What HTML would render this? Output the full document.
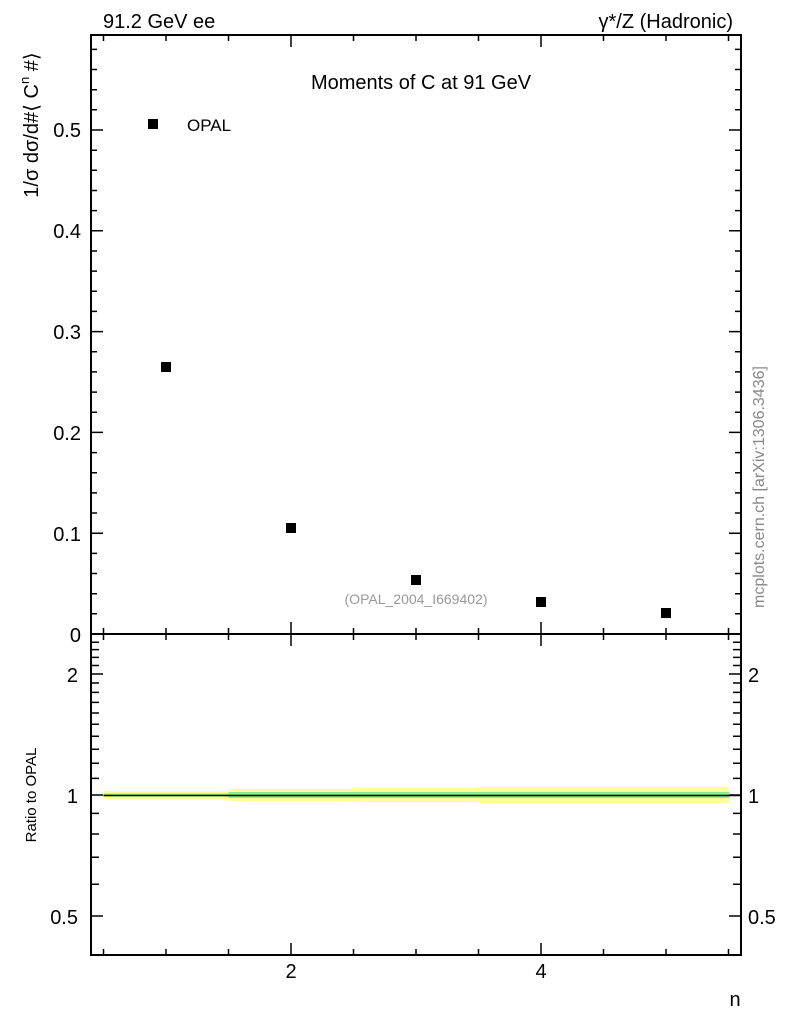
<!DOCTYPE html>
<html><head><style>body{margin:0;background:#fff}svg{display:block}text{font-family:"Liberation Sans",Arial,sans-serif}</style></head>
<body>
<svg width="786" height="1024" xmlns="http://www.w3.org/2000/svg">
<rect width="786" height="1024" fill="#fff"/>
<g>
<rect x="103.5" y="791" width="125" height="8" fill="#ffff99"/>
<rect x="228.5" y="789" width="125" height="12" fill="#ffff99"/>
<rect x="353.5" y="788" width="125" height="14" fill="#ffff99"/>
<rect x="478.5" y="787" width="125" height="16" fill="#ffff99"/>
<rect x="603.5" y="787" width="126" height="16" fill="#ffff99"/>
<rect x="103.5" y="793.5" width="125" height="3" fill="#99ee77"/>
<rect x="228.5" y="792" width="125" height="6" fill="#88ee88"/>
<rect x="353.5" y="792" width="125" height="6" fill="#88ee88"/>
<rect x="478.5" y="792" width="125" height="6" fill="#88ee88"/>
<rect x="603.5" y="792" width="126" height="6" fill="#88ee88"/>
<line x1="103.5" y1="795.5" x2="741" y2="795.5" stroke="#000" stroke-width="1.5"/>
</g>
<g stroke="#000" stroke-width="2" fill="none">
<rect x="91" y="35" width="650" height="920"/>
<line x1="91" y1="634" x2="741" y2="634"/>
</g>
<g stroke="#000" stroke-width="1.5">
<path d="M103.5 634v-6M166 634v-6M228.5 634v-6M291 634v-12M353.5 634v-6M416 634v-6M478.5 634v-6M541 634v-12M603.5 634v-6M666 634v-6M728.5 634v-6"/>
<path d="M103.5 634v6M166 634v6M228.5 634v6M291 634v12M353.5 634v6M416 634v6M478.5 634v6M541 634v12M603.5 634v6M666 634v6M728.5 634v6"/>
<path d="M103.5 35v6M166 35v6M228.5 35v6M291 35v12M353.5 35v6M416 35v6M478.5 35v6M541 35v12M603.5 35v6M666 35v6M728.5 35v6"/>
<path d="M103.5 955v-6M166 955v-6M228.5 955v-6M291 955v-12M353.5 955v-6M416 955v-6M478.5 955v-6M541 955v-12M603.5 955v-6M666 955v-6M728.5 955v-6"/>
<path d="M91 613.8h6M91 593.7h6M91 573.5h6M91 553.4h6M91 533.2h12M91 513h6M91 492.9h6M91 472.7h6M91 452.6h6M91 432.4h12M91 412.2h6M91 392.1h6M91 371.9h6M91 351.8h6M91 331.6h12M91 311.4h6M91 291.3h6M91 271.1h6M91 251h6M91 230.8h12M91 210.6h6M91 190.5h6M91 170.3h6M91 150.2h6M91 130h12M91 109.8h6M91 89.7h6M91 69.5h6M91 49.4h6"/>
<path d="M741 613.8h-6M741 593.7h-6M741 573.5h-6M741 553.4h-6M741 533.2h-12M741 513h-6M741 492.9h-6M741 472.7h-6M741 452.6h-6M741 432.4h-12M741 412.2h-6M741 392.1h-6M741 371.9h-6M741 351.8h-6M741 331.6h-12M741 311.4h-6M741 291.3h-6M741 271.1h-6M741 251h-6M741 230.8h-12M741 210.6h-6M741 190.5h-6M741 170.3h-6M741 150.2h-6M741 130h-12M741 109.8h-6M741 89.7h-6M741 69.5h-6M741 49.4h-6"/>
<path d="M91 916h12M91 884.2h8M91 857.3h8M91 834h8M91 813.4h8M91 795h12M91 778.4h8M91 763.2h8M91 749.2h8M91 736.3h8M91 724.2h8M91 713h8M91 702.4h8M91 692.4h8M91 683h8M91 674h12M91 665.5h8M91 657.4h8M91 649.6h8M91 642.2h8"/>
<path d="M741 916h-12M741 884.2h-8M741 857.3h-8M741 834h-8M741 813.4h-8M741 795h-12M741 778.4h-8M741 763.2h-8M741 749.2h-8M741 736.3h-8M741 724.2h-8M741 713h-8M741 702.4h-8M741 692.4h-8M741 683h-8M741 674h-12M741 665.5h-8M741 657.4h-8M741 649.6h-8M741 642.2h-8"/>
</g>
<g fill="#000">
<rect x="148" y="119" width="10" height="10"/>
<rect x="161" y="362" width="10" height="10"/>
<rect x="286" y="523" width="10" height="10"/>
<rect x="411" y="575" width="10" height="10"/>
<rect x="536" y="597" width="10" height="10"/>
<rect x="661" y="608" width="10" height="10"/>
</g>
<g font-size="20" fill="#000">
<text x="103" y="28">91.2 GeV ee</text>
<text x="733" y="28" text-anchor="end">γ*/Z (Hadronic)</text>
<text x="421" y="89" text-anchor="middle">Moments of C at 91 GeV</text>
<text x="187" y="131" font-size="17">OPAL</text>
<text x="81" y="137" text-anchor="end">0.5</text>
<text x="81" y="238" text-anchor="end">0.4</text>
<text x="81" y="339" text-anchor="end">0.3</text>
<text x="81" y="440" text-anchor="end">0.2</text>
<text x="81" y="541" text-anchor="end">0.1</text>
<text x="81" y="642" text-anchor="end">0</text>
<text x="78" y="682" text-anchor="end">2</text>
<text x="78" y="803" text-anchor="end">1</text>
<text x="78" y="924" text-anchor="end">0.5</text>
<text x="748" y="682">2</text>
<text x="748" y="803">1</text>
<text x="748" y="924">0.5</text>
<text x="291" y="978" text-anchor="middle">2</text>
<text x="541" y="978" text-anchor="middle">4</text>
<text x="735" y="1006" text-anchor="middle">n</text>
<text transform="translate(38,125) rotate(-90)" text-anchor="middle">1/σ   dσ/d#⟨ C<tspan font-size="13" dy="-9">n</tspan><tspan dy="9"> #⟩</tspan></text>
<text transform="translate(36,795) rotate(-90)" text-anchor="middle" font-size="15">Ratio to OPAL</text>
<text x="416" y="604" text-anchor="middle" font-size="14" fill="#999">(OPAL_2004_I669402)</text>
<text transform="translate(764,487) rotate(-90)" text-anchor="middle" font-size="16" fill="#888">mcplots.cern.ch [arXiv:1306.3436]</text>
</g>
</svg>
</body></html>
